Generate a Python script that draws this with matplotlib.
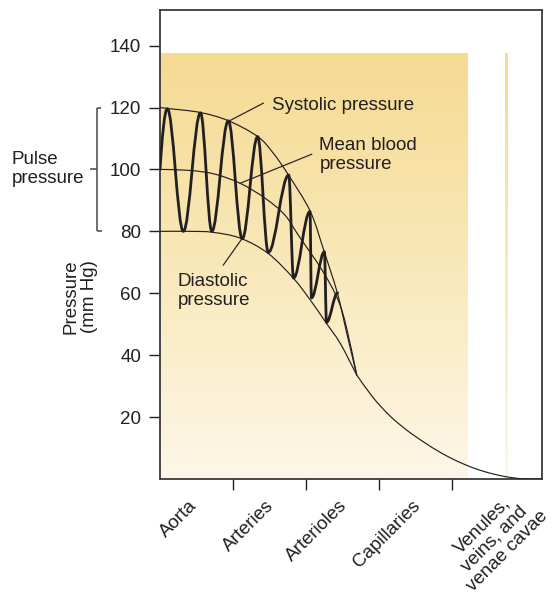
import numpy as np
import matplotlib
matplotlib.use("Agg")
import matplotlib.pyplot as plt
from matplotlib.path import Path
from matplotlib.patches import PathPatch
from matplotlib import transforms
from matplotlib.colors import LinearSegmentedColormap

plt.rcParams["font.family"] = ["Liberation Sans", "DejaVu Sans"]

# ---- data -------------------------------------------------------------
segments = ["Aorta", "Arteries", "Arterioles", "Capillaries",
            "Venules,\nveins, and\nvenae cavae"]
boundary_ticks = [1, 2, 3, 4]
pressure_ticks = [20, 40, 60, 80, 100, 120, 140]

# envelope curves (position along the circulation, mm Hg)
systolic_x = [0.00, 0.10, 0.55, 0.94, 1.34, 1.55, 1.76, 2.06, 2.25, 2.43, 2.56, 2.695]
systolic_p = [120.0, 119.7, 118.4, 115.7, 110.6, 105.3, 98.2, 86.4, 73.4, 60.1, 47.0, 33.6]

mean_x = [0.00, 0.40, 0.75, 1.10, 1.44, 1.71, 1.90, 2.22, 2.44, 2.56, 2.695]
mean_p = [100.0, 99.7, 98.5, 95.5, 90.7, 85.3, 78.6, 67.5, 57.8, 48.5, 33.6]

diastolic_x = [0.00, 0.40, 0.72, 1.10, 1.48, 1.83, 2.06, 2.28, 2.47, 2.695]
diastolic_p = [80.0, 80.0, 79.7, 77.8, 72.9, 64.8, 57.8, 50.3, 43.8, 33.6]

venous_x = [2.695, 2.92, 3.15, 3.38, 3.61, 3.84, 4.06, 4.29, 4.52, 4.75, 4.98, 5.23]
venous_p = [33.6, 26.3, 20.4, 15.8, 12.0, 8.6, 5.9, 3.6, 1.9, 0.7, 0.05, 0.0]

# pressure wave: successive peaks and troughs
wave_x = [0.00, 0.10, 0.32, 0.555, 0.71, 0.936, 1.127, 1.338, 1.484,
          1.764, 1.829, 2.055, 2.075, 2.253, 2.281, 2.434]
wave_p = [100.0, 119.6, 80.0, 118.3, 80.0, 115.7, 77.6, 110.6, 73.2,
          98.2, 64.9, 86.4, 58.5, 73.4, 50.6, 60.1]

# ---- figure -----------------------------------------------------------
W, H = 552, 595
fig = plt.figure(figsize=(W / 100, H / 100), dpi=100)
ax = fig.add_axes([160 / W, 1 - 479 / H, (541.7 - 160) / W, (479 - 10) / H])

ink = "#231f20"

# shaded background panels
grad = LinearSegmentedColormap.from_list("bg", ["#fdf7e8", "#f9e8b9", "#f5da92"])
g = np.linspace(0, 1, 256).reshape(-1, 1)
ax.imshow(g, cmap=grad, origin="lower", aspect="auto",
          extent=(0, 4.22, 0, 137.6), zorder=0)
ax.imshow(g, cmap=grad, origin="lower", aspect="auto",
          extent=(4.726, 4.767, 0, 137.6), zorder=0)
ax.set_xlim(0, 5.23)
ax.set_ylim(0, 151.5)


def smooth_curve(xs, ys):
    pts = np.column_stack([xs, ys])
    n = len(pts)
    verts = [tuple(pts[0])]
    codes = [Path.MOVETO]
    for i in range(n - 1):
        p0 = pts[i - 1] if i > 0 else pts[i]
        p1 = pts[i]
        p2 = pts[i + 1]
        p3 = pts[i + 2] if i + 2 < n else pts[i + 1]
        c1 = p1 + (p2 - p0) / 6.0
        c2 = p2 - (p3 - p1) / 6.0
        verts += [tuple(c1), tuple(c2), tuple(p2)]
        codes += [Path.CURVE4] * 3
    return Path(verts, codes)


def wave_path(xs, ys):
    verts = [(xs[0], ys[0])]
    codes = [Path.MOVETO]
    for i in range(1, len(xs)):
        x0, y0, x1, y1 = xs[i - 1], ys[i - 1], xs[i], ys[i]
        dx = x1 - x0
        if i == 1:
            c1 = (x0 + 0.3 * dx, y0 + 0.55 * (y1 - y0))
        else:
            c1 = (x0 + 0.364 * dx, y0)
        c2 = (x1 - 0.364 * dx, y1)
        verts += [c1, c2, (x1, y1)]
        codes += [Path.CURVE4] * 3
    return Path(verts, codes)


for xs, ys in [(systolic_x, systolic_p), (mean_x, mean_p),
               (diastolic_x, diastolic_p), (venous_x, venous_p)]:
    ax.add_patch(PathPatch(smooth_curve(xs, ys), fill=False, lw=0.85,
                           edgecolor=ink, zorder=3, capstyle="round"))

ax.add_patch(PathPatch(wave_path(wave_x, wave_p), fill=False, lw=2.0,
                       edgecolor=ink, zorder=4, joinstyle="round",
                       capstyle="round"))

# annotations
fs = 13.5
ax.plot([1.415, 0.96], [121.4, 115.8], color=ink, lw=0.85, zorder=5)
ax.text(1.53, 120.8, "Systolic pressure", fontsize=fs, color=ink,
        ha="left", va="center")
ax.plot([2.078, 1.096], [104.9, 95.5], color=ink, lw=0.85, zorder=5)
ax.text(2.184, 104.8, "Mean blood\npressure", fontsize=fs, color=ink,
        ha="left", va="center", linespacing=1.15)
ax.plot([1.119, 0.867], [77.5, 69.1], color=ink, lw=0.85, zorder=5)
ax.text(0.237, 60.7, "Diastolic\npressure", fontsize=fs, color=ink,
        ha="left", va="center", linespacing=1.15)

# axes styling
for s in ax.spines.values():
    s.set_color("#3a3a3a")
    s.set_linewidth(1.3)
ax.set_yticks(pressure_ticks)
ax.set_xticks(boundary_ticks)
ax.set_xticklabels([])
ax.tick_params(axis="y", length=8, width=1, color=ink, labelsize=fs,
               labelcolor=ink, pad=5.5)
ax.tick_params(axis="x", length=8, width=1, color=ink)

label_x = [0.47, 1.53, 2.53, 3.53, 5.10]
label_dy = [-17.5, -17.5, -17.5, -17.5, -16.0]
for lx, dy, name in zip(label_x, label_dy, segments):
    ax.annotate(name, xy=(lx, 0), xycoords=("data", "axes fraction"),
                xytext=(0, dy), textcoords="offset points",
                rotation=45, rotation_mode="anchor", ha="right", va="center",
                multialignment="center", fontsize=fs, color=ink,
                linespacing=1.08, annotation_clip=False)

# y-axis title and pulse-pressure bracket
fig_y = transforms.blended_transform_factory(fig.transFigure, ax.transData)
fig.text(80 / W, 58.9, "Pressure\n(mm Hg)", transform=fig_y, rotation=90,
         ha="center", va="center", multialignment="center",
         fontsize=fs, color=ink, linespacing=1.15)

bx = 96.7 / W
br = "#555555"
for xs, ys in [([bx, bx], [80, 120]),
               ([bx, 100.7 / W], [120, 120]),
               ([bx, 102 / W], [80, 80]),
               ([90 / W, bx], [100, 100])]:
    fig.add_artist(plt.Line2D(xs, ys, transform=fig_y, color=br, lw=1.2,
                              solid_capstyle="butt"))
fig.text(11.7 / W, 100, "Pulse\npressure", transform=fig_y, ha="left",
         va="center", fontsize=fs, color=ink, linespacing=1.15)

fig.savefig("out.png", dpi=100)
